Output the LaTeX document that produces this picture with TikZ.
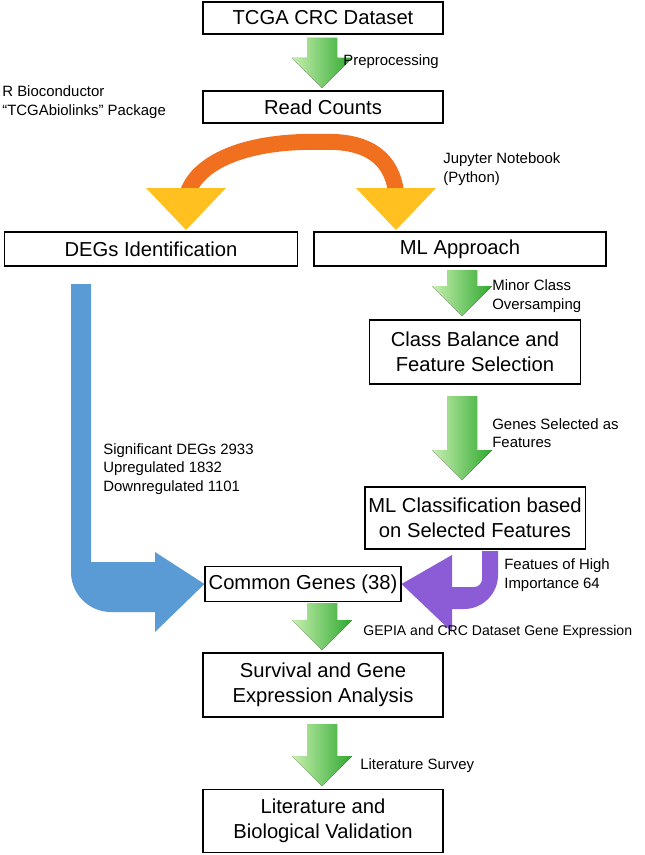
\documentclass[tikz,border=0pt]{standalone}
\usepackage{fontspec}
\setmainfont{Liberation Sans}
\usetikzlibrary{positioning}
\definecolor{grnlt}{HTML}{C8F0B0}
\definecolor{grndk}{HTML}{2EA82E}
\definecolor{orglt}{HTML}{FFC020}
\definecolor{orgdk}{HTML}{F07020}
\definecolor{blu}{HTML}{5B9BD5}
\definecolor{pur}{HTML}{8B5CD6}
\tikzset{
    box/.style={
           draw=black, thick,
           fill=white,
           font=\fontsize{11.5}{14}\selectfont,
           align=center,
           inner sep=2pt},
    lbl/.style={
           font=\fontsize{8.5}{10.5}\selectfont,
           align=left,
           anchor=west,
           inner sep=0pt},
    grn/.style={
           left color=grnlt, right color=grndk}
}
% green down arrow: x, top y, bottom y
\newcommand\grnarrow[3]{%
  \fill[grn] (#1-15,#2) -- (#1+15,#2) -- (#1+15,#3-30) -- (#1+30,#3-30) -- (#1,#3) -- (#1-30,#3-30) -- (#1-15,#3-30) -- cycle;}
\begin{document}
\begin{tikzpicture}[x=0.02cm, y=-0.02cm]
        \useasboundingbox (0,0) rectangle (645,855);
        % boxes
        \node[box, minimum width=4.8cm, minimum height=0.64cm] (tcga) at (323,18) {TCGA CRC Dataset};
        \node[box, minimum width=4.8cm, minimum height=0.64cm] (reads) at (323,107) {Read Counts};
        \node[box, minimum width=5.86cm, minimum height=0.68cm] (degs) at (151,249) {DEGs Identification};
        \node[box, minimum width=5.84cm, minimum height=0.68cm] (ml) at (460,249) {ML Approach};
        \node[box, minimum width=4.22cm, minimum height=1.28cm] (balance) at (475,352) {Class Balance and\\Feature Selection};
        \node[box, minimum width=4.22cm, minimum height=1.24cm] (classif) at (475,518) {ML Classification based\\on Selected Features};
        \node[box, minimum width=3.88cm, minimum height=0.7cm] (common) at (303,584) {Common Genes (38)};
        \node[box, minimum width=4.8cm, minimum height=1.28cm] (surv) at (323,685) {Survival and Gene\\Expression Analysis};
        \node[box, minimum width=4.8cm, minimum height=1.26cm] (lit) at (323,821) {Literature and\\Biological Validation};

        % green arrows
        \grnarrow{322}{38}{88}
        \grnarrow{462}{270}{316}
        \grnarrow{462}{396}{480}
        \grnarrow{322}{603}{650}
        \grnarrow{322}{724}{786}

        % orange split arrows
        \coordinate (top) at (322,142);
        \coordinate (lt) at (186,230);
        \coordinate (rt) at (396,230);
        \draw[line width=0.32cm, orgdk] (top) .. controls (250,140) and (200,160) .. (188,192);
        \draw[line width=0.32cm, orgdk] (top) .. controls (370,140) and (392,160) .. (396,192);
        \fill[orglt] (146,188) -- (226,188) -- (lt) -- cycle;
        \fill[orglt] (356,188) -- (436,188) -- (rt) -- cycle;

        % blue arrow to common genes
        \coordinate (bt) at (common.west);
        \fill[blu] (71,284) -- (91,284) -- (91,562) -- (155,562) -- (155,552) -- (bt) -- (155,632) -- (155,612) -- (111,612) arc (90:180:40) -- cycle;
        % purple arrow to common genes
        \coordinate (pt) at (common.east);
        \fill[pur] (482,551) -- (498,551) -- (498,575) arc (0:90:34) -- (452,609) -- (452,632) -- (pt) -- (452,555) -- (452,587) -- (474,587) arc (90:0:8) -- cycle;

        % labels
        \node[lbl] at (343,62) {Preprocessing};
        \node[lbl] at (2,102) {R Bioconductor\\``TCGAbiolinks'' Package};
        \node[lbl] at (443,169) {Jupyter Notebook\\(Python)};
        \node[lbl] at (492,296) {Minor Class\\Oversamping};
        \node[lbl] at (103,469) {Significant DEGs 2933\\Upregulated 1832\\Downregulated 1101};
        \node[lbl] at (492,433) {Genes Selected as\\Features};
        \node[lbl] at (504,575) {Featues of High\\Importance 64};
        \node[lbl, font=\fontsize{8}{10}\selectfont] at (363,632) {GEPIA and CRC Dataset Gene Expression};
        \node[lbl] at (360,766) {Literature Survey};
\end{tikzpicture}
\end{document}
